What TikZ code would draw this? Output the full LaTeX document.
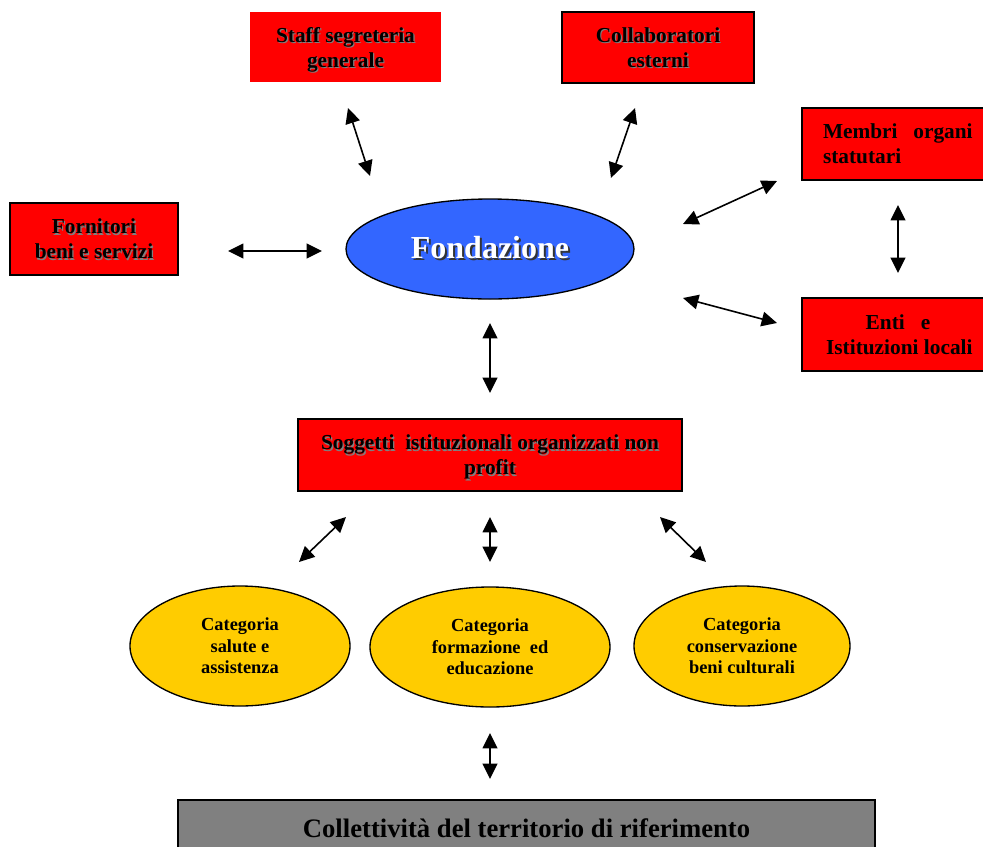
\documentclass[tikz,border=0pt]{standalone}
\usepackage{fontspec}
\setmainfont{Liberation Serif}
\usepackage{tikz}
\usetikzlibrary{arrows.meta,shapes.geometric}

\definecolor{boxred}{RGB}{255,0,0}
\definecolor{fondblue}{RGB}{51,102,255}
\definecolor{catyellow}{RGB}{255,204,0}
\definecolor{basegray}{RGB}{128,128,128}

% testo con ombra
\newcommand{\shd}[1]{\rlap{\hspace{0.9pt}\raisebox{-0.9pt}{\color{gray}#1}}#1}
\newcommand{\fondtxt}[1]{%
  \rlap{\hspace{1.5pt}\raisebox{-1.5pt}{\color{black!80}#1}}{\color{white}#1}}

\tikzset{
  redbase/.style={rectangle, fill=boxred, draw=black, line width=1.2pt,
    inner sep=0pt, align=center,
    font=\fontsize{16}{18.75}\selectfont\bfseries},
  redbox/.style={redbase, text depth=0pt},
  catellipse/.style={ellipse, fill=catyellow, draw=black, line width=1pt,
    inner sep=0pt, align=center, minimum height=90pt,
    font=\fontsize{13.8}{16.1}\selectfont\bfseries},
  biarrow/.style={line width=1.2pt, {Triangle[length=11.5pt,width=11pt]}-{Triangle[length=11.5pt,width=11pt]}}
}

\begin{document}
\begin{tikzpicture}[x=0.75pt,y=-0.75pt]

  \useasboundingbox (0,0) rectangle (983,847);

  % nodo centrale
  \node[ellipse, fill=fondblue, draw=black, line width=1pt,
    minimum width=216pt, minimum height=75pt, inner sep=0pt,
    font=\fontsize{24}{28}\selectfont\bfseries] (fond) at (490,249) {\fondtxt{Fondazione}\hspace{12pt}};

  % riquadri rossi
  \node[redbox, draw=boxred, minimum width=141.75pt, minimum height=51pt] (staff) at (345.5,47)
    {\shd{Staff segreteria}\\\shd{generale}};
  \node[redbox, minimum width=144pt, minimum height=53.25pt] (collab) at (658,47.5)
    {\shd{Collaboratori}\\\shd{esterni}};
  \node[redbase, minimum width=138pt, minimum height=54pt, align=left,
    text width=118pt, inner xsep=10pt] (membri) at (894,144)
    {\hspace*{5.75pt}Membri\hfill organi\\\hspace*{5.75pt}statutari};
  \node[redbox, minimum width=126pt, minimum height=54pt] (fornitori) at (94,239)
    {\shd{Fornitori}\\\shd{beni e servizi}};
  \node[redbox, minimum width=138pt, minimum height=54.75pt] (enti) at (894,334.5)
    {\hspace{6pt}Enti\ \ \ e\\\hspace{8pt}Istituzioni locali};
  \node[redbox, minimum width=288pt, minimum height=54pt] (soggetti) at (490,455)
    {\shd{Soggetti\ \ istituzionali organizzati non}\\\shd{profit}};

  % categorie
  \node[catellipse, minimum width=165pt] (salute) at (240,646)
    {Categoria\\salute e\\assistenza};
  \node[catellipse, minimum width=180pt] (formazione) at (490,647)
    {Categoria\\formazione\ \ ed\\educazione};
  \node[catellipse, minimum width=162pt] (beni) at (742,646)
    {Categoria\\conservazione\\beni culturali};

  % collettivita
  \node[rectangle, fill=basegray, draw=black, line width=1.2pt,
    minimum width=522.75pt, minimum height=42pt, inner sep=0pt,
    font=\fontsize{20}{24}\selectfont\bfseries] (collettivita) at (526.5,828)
    {Collettività del territorio di riferimento};

  % estremi delle frecce
  \coordinate (staffA) at (348,108);
  \coordinate (staffB) at (370,176);
  \coordinate (collabA) at (635,108);
  \coordinate (collabB) at (611,178);
  \coordinate (fornA) at (228,251);
  \coordinate (fornB) at (322,251);
  \coordinate (membriA) at (683,224);
  \coordinate (membriB) at (777,181);
  \coordinate (mentiA) at (898,205);
  \coordinate (mentiB) at (898,273);
  \coordinate (entiA) at (683,298);
  \coordinate (entiB) at (777,323);
  \coordinate (fsA) at (490,323);
  \coordinate (fsB) at (490,393);
  \coordinate (sc1A) at (346,517);
  \coordinate (sc1B) at (299,562);
  \coordinate (sc2A) at (490,517);
  \coordinate (sc2B) at (490,562);
  \coordinate (sc3A) at (660,517);
  \coordinate (sc3B) at (706,562);
  \coordinate (colA) at (490,733);
  \coordinate (colB) at (490,779);

  \draw[biarrow] (staffA) -- (staffB);
  \draw[biarrow] (collabA) -- (collabB);
  \draw[biarrow] (fornA) -- (fornB);
  \draw[biarrow] (membriA) -- (membriB);
  \draw[biarrow] (mentiA) -- (mentiB);
  \draw[biarrow] (entiA) -- (entiB);
  \draw[biarrow] (fsA) -- (fsB);
  \draw[biarrow] (sc1A) -- (sc1B);
  \draw[biarrow] (sc2A) -- (sc2B);
  \draw[biarrow] (sc3A) -- (sc3B);
  \draw[biarrow] (colA) -- (colB);

\end{tikzpicture}
\end{document}
